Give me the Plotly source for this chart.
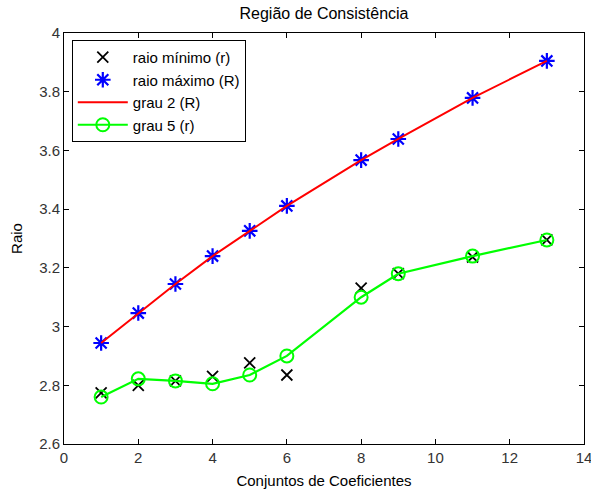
import plotly.graph_objects as go

x_vals = [1, 2, 3, 4, 5, 6, 8, 9, 11, 13]
raio_min = [2.774, 2.800, 2.815, 2.830, 2.876, 2.835, 3.131, 3.180, 3.237, 3.295]
raio_max = [2.944, 3.046, 3.145, 3.240, 3.326, 3.411, 3.567, 3.639, 3.779, 3.905]
grau2 = [2.944, 3.046, 3.145, 3.240, 3.326, 3.411, 3.567, 3.639, 3.779, 3.905]
grau5 = [2.760, 2.822, 2.815, 2.805, 2.835, 2.900, 3.100, 3.180, 3.240, 3.295]

x_ticks = [0, 2, 4, 6, 8, 10, 12, 14]
y_ticks = [2.6, 2.8, 3.0, 3.2, 3.4, 3.6, 3.8, 4.0]
y_labels = ["2.6", "2.8", "3", "3.2", "3.4", "3.6", "3.8", "4"]

FONT = "Liberation Sans, Arial, sans-serif"

fig = go.Figure()
fig.add_trace(go.Scatter(
    x=x_vals, y=raio_min, mode="markers", name="raio mínimo (r)",
    marker=dict(symbol="x-thin-open", size=11, color="black", line=dict(color="black", width=1.8)),
))
fig.add_trace(go.Scatter(
    x=x_vals, y=raio_max, mode="markers", name="raio máximo (R)",
    marker=dict(symbol="asterisk-open", size=13, color="blue", line=dict(color="blue", width=2.2)),
))
fig.add_trace(go.Scatter(
    x=x_vals, y=grau2, mode="lines", name="grau 2 (R)",
    line=dict(color="red", width=2),
))
fig.add_trace(go.Scatter(
    x=x_vals, y=grau5, mode="lines+markers", name="grau 5 (r)",
    line=dict(color="#00ff00", width=2.2),
    marker=dict(symbol="circle-open", size=13, color="#00ff00", line=dict(color="#00ff00", width=2)),
))

axis_common = dict(
    showgrid=False, zeroline=False, showline=True, linecolor="black", linewidth=1,
    mirror="ticks", ticks="inside", ticklen=5, tickcolor="black",
    tickfont=dict(family=FONT, size=15, color="#333333"),
    ticklabeloverflow="allow", automargin=False,
)

fig.update_layout(
    width=591, height=490,
    margin=dict(l=64, r=7, t=33, b=46),
    paper_bgcolor="white", plot_bgcolor="white",
    title=dict(text="Região de Consistência", x=(64 + 584) / 2 / 591, xanchor="center",
               y=1 - 13 / 490, yanchor="middle",
               font=dict(family=FONT, size=16, color="black")),
    showlegend=True,
    legend=dict(x=0.015, y=0.983, xanchor="left", yanchor="top",
                bgcolor="white", bordercolor="black", borderwidth=1,
                font=dict(family=FONT, size=15, color="black"),
                itemwidth=50, tracegroupgap=0),
    xaxis=dict(range=[0, 14], tickvals=x_ticks, ticktext=[str(t) for t in x_ticks],
               title=dict(text="Conjuntos de Coeficientes", font=dict(family=FONT, size=15, color="black"), standoff=10),
               **axis_common),
    yaxis=dict(range=[2.6, 4.0], tickvals=y_ticks, ticktext=y_labels,
               title=dict(text="Raio", font=dict(family=FONT, size=15, color="black"), standoff=12),
               **axis_common),
)

fig.write_html("out.html")
